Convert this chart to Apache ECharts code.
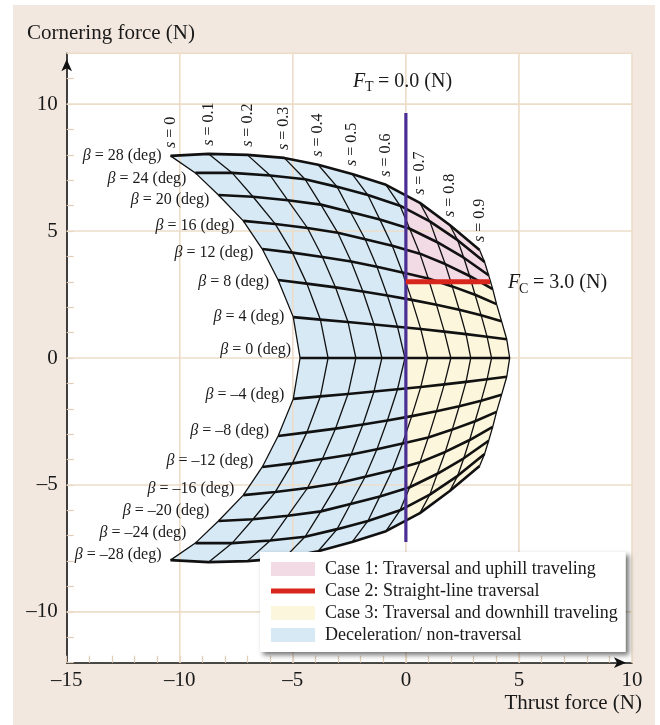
<!DOCTYPE html>
<html><head><meta charset="utf-8">
<script src="https://cdn.jsdelivr.net/npm/echarts@6/dist/echarts.min.js"></script>
<style>html,body{margin:0;padding:0;background:#fff}#c{width:660px;height:725px}</style>
</head><body><div id="c"></div>
<script>
// slip ratio values (one thin curve each) and slip angles (one thick curve each)
const sValues = [0, 0.1, 0.2, 0.3, 0.4, 0.5, 0.6, 0.7, 0.8, 0.9];
const betaValues = [28, 24, 20, 16, 12, 8, 4, 0, -4, -8, -12, -16, -20, -24, -28];

// thrust force (N) and cornering force (N) along each beta curve, s = 0 ... 0.9
const thrustB28 = [-10.41, -8.73, -7.01, -5.38, -3.88, -2.38, -0.88, 0.62, 1.94, 3.26];
const cornerB28 = [7.96, 8.04, 8.00, 7.88, 7.61, 7.25, 6.82, 6.11, 5.24, 4.25];
const thrustB24 = [-9.31, -7.68, -6.00, -4.46, -3.04, -1.68, -0.26, 1.06, 2.29, 3.48];
const cornerB24 = [7.29, 7.29, 7.19, 7.04, 6.74, 6.42, 6.00, 5.38, 4.64, 3.78];
const thrustB20 = [-8.29, -6.76, -5.22, -3.76, -2.45, -1.15, 0.17, 1.39, 2.56, 3.66];
const cornerB20 = [6.42, 6.35, 6.21, 6.04, 5.75, 5.45, 5.09, 4.56, 3.95, 3.26];
const thrustB16 = [-7.19, -5.78, -4.35, -3.01, -1.80, -0.60, 0.62, 1.74, 2.82, 3.84];
const cornerB16 = [5.40, 5.28, 5.12, 4.93, 4.68, 4.42, 4.11, 3.70, 3.23, 2.71];
const thrustB12 = [-6.35, -5.02, -3.69, -2.42, -1.28, -0.15, 0.99, 2.05, 3.06, 4.01];
const cornerB12 = [4.29, 4.15, 3.98, 3.80, 3.59, 3.37, 3.13, 2.82, 2.49, 2.12];
const thrustB8 = [-5.65, -4.38, -3.11, -1.90, -0.82, 0.26, 1.35, 2.36, 3.33, 4.23];
const cornerB8 = [3.07, 2.93, 2.78, 2.62, 2.46, 2.29, 2.10, 1.90, 1.68, 1.45];
const thrustB4 = [-4.98, -3.78, -2.56, -1.41, -0.37, 0.66, 1.70, 2.66, 3.59, 4.46];
const cornerB4 = [1.61, 1.51, 1.42, 1.32, 1.23, 1.14, 1.04, 0.94, 0.84, 0.74];
const thrustB0 = [-4.68, -3.44, -2.21, -1.06, -0.04, 0.97, 1.99, 2.87, 3.79, 4.59];
const cornerB0 = [0, 0, 0, 0, 0, 0, 0, 0, 0, 0];
const thrustBm4 = [-4.98, -3.78, -2.56, -1.41, -0.37, 0.66, 1.70, 2.66, 3.59, 4.46];
const cornerBm4 = [-1.61, -1.51, -1.42, -1.32, -1.23, -1.14, -1.04, -0.94, -0.84, -0.74];
const thrustBm8 = [-5.65, -4.38, -3.11, -1.90, -0.82, 0.26, 1.35, 2.36, 3.33, 4.23];
const cornerBm8 = [-3.07, -2.93, -2.78, -2.62, -2.46, -2.29, -2.10, -1.90, -1.68, -1.45];
const thrustBm12 = [-6.35, -5.02, -3.69, -2.42, -1.28, -0.15, 0.99, 2.05, 3.06, 4.01];
const cornerBm12 = [-4.29, -4.15, -3.98, -3.80, -3.59, -3.37, -3.13, -2.82, -2.49, -2.12];
const thrustBm16 = [-7.19, -5.78, -4.35, -3.01, -1.80, -0.60, 0.62, 1.74, 2.82, 3.84];
const cornerBm16 = [-5.40, -5.28, -5.12, -4.93, -4.68, -4.42, -4.11, -3.70, -3.23, -2.71];
const thrustBm20 = [-8.29, -6.76, -5.22, -3.76, -2.45, -1.15, 0.17, 1.39, 2.56, 3.66];
const cornerBm20 = [-6.42, -6.35, -6.21, -6.04, -5.75, -5.45, -5.09, -4.56, -3.95, -3.26];
const thrustBm24 = [-9.31, -7.68, -6.00, -4.46, -3.04, -1.68, -0.26, 1.06, 2.29, 3.48];
const cornerBm24 = [-7.29, -7.29, -7.19, -7.04, -6.74, -6.42, -6.00, -5.38, -4.64, -3.78];
const thrustBm28 = [-10.41, -8.73, -7.01, -5.38, -3.88, -2.38, -0.88, 0.62, 1.94, 3.26];
const cornerBm28 = [-7.96, -8.04, -8.00, -7.88, -7.61, -7.25, -6.82, -6.11, -5.24, -4.25];

const thrustRows = [thrustB28, thrustB24, thrustB20, thrustB16, thrustB12, thrustB8, thrustB4, thrustB0,
  thrustBm4, thrustBm8, thrustBm12, thrustBm16, thrustBm20, thrustBm24, thrustBm28];
const cornerRows = [cornerB28, cornerB24, cornerB20, cornerB16, cornerB12, cornerB8, cornerB4, cornerB0,
  cornerBm4, cornerBm8, cornerBm12, cornerBm16, cornerBm20, cornerBm24, cornerBm28];

// reference lines
const thrustZero = 0.0;            // F_T = 0.0 (N)
const thrustLineSpan = [-7.25, 9.65];
const corneringCase2 = 3.0;        // F_C = 3.0 (N)
const case2End = 3.72;

// axis grid values
const xGridValues = [-10, -5, 0, 5, 10];
const yGridValues = [-10, -5, 0, 5, 10, 12];

const legendNames = ['Case 1: Traversal and uphill traveling', 'Case 2: Straight-line traversal',
  'Case 3: Traversal and downhill traveling', 'Deceleration/ non-traversal'];

// label placement (style only)
const betaLabelDy = [0, 6, 5, 5, 4, 2, 0, -8, -4, -5, -6, -6, -10, -10, -5];

const SERIF = '"Liberation Serif", "Times New Roman", serif';
const INK = '#1a1a1a';
const dash = v => String(v).replace('-', '\u2013');
const nB = betaValues.length, nS = sValues.length;

function meshOutline() {
  const out = [];
  for (let b = nB - 1; b >= 0; b--) out.push([thrustRows[b][0], cornerRows[b][0]]);
  for (let s = 1; s < nS; s++) out.push([thrustRows[0][s], cornerRows[0][s]]);
  for (let b = 1; b < nB; b++) out.push([thrustRows[b][nS - 1], cornerRows[b][nS - 1]]);
  for (let s = nS - 2; s >= 1; s--) out.push([thrustRows[nB - 1][s], cornerRows[nB - 1][s]]);
  return out;
}
function clipPoly(poly, axis, val, keepGreater) {
  const out = [];
  const inside = p => keepGreater ? p[axis] >= val : p[axis] <= val;
  for (let i = 0; i < poly.length; i++) {
    const a = poly[i], b = poly[(i + 1) % poly.length];
    const ia = inside(a), ib = inside(b);
    if (ia) out.push(a);
    if (ia !== ib) {
      const t = (val - a[axis]) / (b[axis] - a[axis]);
      out.push([a[0] + t * (b[0] - a[0]), a[1] + t * (b[1] - a[1])]);
    }
  }
  return out;
}
function fillRenderer(region) {
  return function (params, api) {
    let poly = meshOutline();
    if (region === 'decel') poly = clipPoly(poly, 0, thrustZero, false);
    else {
      poly = clipPoly(poly, 0, thrustZero, true);
      poly = clipPoly(poly, 1, corneringCase2, region === 'uphill');
    }
    return { type: 'polygon', shape: { points: poly.map(p => api.coord(p)) }, style: { fill: api.visual('color') } };
  };
}
function renderGridLines(params, api) {
  const children = [];
  const col = '#ecdcc8';
  xGridValues.forEach(v => {
    const a = api.coord([v, -12]), b = api.coord([v, 12]);
    children.push({ type: 'line', shape: { x1: a[0], y1: a[1], x2: b[0], y2: b[1] }, style: { stroke: col, lineWidth: 1.6 } });
  });
  yGridValues.forEach(v => {
    const a = api.coord([-15, v]), b = api.coord([10, v]);
    children.push({ type: 'line', shape: { x1: a[0], y1: a[1], x2: b[0], y2: b[1] }, style: { stroke: col, lineWidth: 1.6 } });
  });
  return { type: 'group', children };
}
function renderMesh(params, api) {
  const children = [];
  for (let s = 0; s < nS; s++) {
    const pts = [];
    for (let b = 0; b < nB; b++) pts.push(api.coord([thrustRows[b][s], cornerRows[b][s]]));
    children.push({ type: 'polyline', shape: { points: pts }, style: { stroke: '#111', lineWidth: 1.3, fill: null } });
  }
  for (let b = 0; b < nB; b++) {
    const pts = thrustRows[b].map((x, i) => api.coord([x, cornerRows[b][i]]));
    children.push({ type: 'polyline', shape: { points: pts }, style: { stroke: '#111', lineWidth: 2.6, fill: null, lineJoin: 'round' } });
  }
  return { type: 'group', children };
}
function renderLabels(params, api) {
  const children = [];
  betaValues.forEach((b, i) => {
    const p = api.coord([thrustRows[i][0], cornerRows[i][0]]);
    children.push({ type: 'text', x: p[0] - 9, y: p[1] + betaLabelDy[i], style: {
      text: '{g|\u03b2} = ' + dash(b) + ' (deg)',
      rich: { g: { fontStyle: 'italic', fontFamily: SERIF, fontSize: 16, fill: INK } },
      fontFamily: SERIF, fontSize: 16, fill: INK, align: 'right', verticalAlign: 'middle' } });
  });
  sValues.forEach((s, j) => {
    const p = api.coord([thrustRows[0][j], cornerRows[0][j]]);
    children.push({ type: 'text', x: p[0], y: p[1] - 8, rotation: Math.PI / 2, style: {
      text: '{i|s} = ' + s,
      rich: { i: { fontStyle: 'italic', fontFamily: SERIF, fontSize: 16, fill: INK } },
      fontFamily: SERIF, fontSize: 16, fill: INK, align: 'left', verticalAlign: 'middle' } });
  });
  return { type: 'group', children };
}

const axisCommon = {
  type: 'value', interval: 1,
  axisLine: { onZero: false, lineStyle: { color: '#111', width: 1.6 }, symbol: ['none', 'arrow'], symbolSize: [8, 12], symbolOffset: [0, -6] },
  axisTick: { inside: true, length: 7, lineStyle: { color: '#e2cdb6', width: 1.2 } },
  axisLabel: { formatter: v => (v % 5 === 0 ? dash(v) : ''), fontFamily: SERIF, fontSize: 21, color: INK },
  splitLine: { show: false }
};

const chart = echarts.init(document.getElementById('c'));
chart.setOption({
  animation: false,
  backgroundColor: '#ffffff',
  graphic: [
    { type: 'rect', z: -100, silent: true, shape: { x: 13, y: 5, width: 642, height: 720 }, style: { fill: '#f2e8df' } },
    { type: 'text', x: 27, y: 33.5, style: { text: 'Cornering force (N)', fontFamily: SERIF, fontSize: 21, fill: INK, align: 'left', verticalAlign: 'middle' } },
    { type: 'text', x: 642, y: 703, style: { text: 'Thrust force (N)', fontFamily: SERIF, fontSize: 21, fill: INK, align: 'right', verticalAlign: 'middle' } },
    { type: 'text', x: 353, y: 82, z: 10, style: { text: 'F', fontFamily: SERIF, fontStyle: 'italic', fontSize: 20, fill: INK, align: 'left', verticalAlign: 'middle' } },
    { type: 'text', x: 365, y: 87, z: 10, style: { text: 'T', fontFamily: SERIF, fontSize: 14, fill: INK, align: 'left', verticalAlign: 'middle' } },
    { type: 'text', x: 378, y: 82, z: 10, style: { text: '= 0.0 (N)', fontFamily: SERIF, fontSize: 20, fill: INK, align: 'left', verticalAlign: 'middle' } },
    { type: 'text', x: 508, y: 283, z: 10, style: { text: 'F', fontFamily: SERIF, fontStyle: 'italic', fontSize: 20, fill: INK, align: 'left', verticalAlign: 'middle' } },
    { type: 'text', x: 519, y: 289, z: 10, style: { text: 'C', fontFamily: SERIF, fontSize: 14, fill: INK, align: 'left', verticalAlign: 'middle' } },
    { type: 'text', x: 533, y: 283, z: 10, style: { text: '= 3.0 (N)', fontFamily: SERIF, fontSize: 20, fill: INK, align: 'left', verticalAlign: 'middle' } }
  ],
  grid: { left: 66.7, right: 28, top: 53.3, bottom: 62.3, show: true, backgroundColor: '#ffffff', borderWidth: 0 },
  xAxis: Object.assign({}, axisCommon, { min: -15, max: 10, axisLabel: Object.assign({}, axisCommon.axisLabel, { margin: 7 }) }),
  yAxis: Object.assign({}, axisCommon, { min: -12, max: 12, axisLabel: Object.assign({}, axisCommon.axisLabel, { margin: 9 }) }),
  legend: {
    orient: 'vertical', left: 260, top: 552, padding: [8, 8, 8, 11], itemGap: 4, itemWidth: 44, itemHeight: 14,
    backgroundColor: '#ffffff', shadowBlur: 5, shadowColor: 'rgba(0,0,0,0.55)', shadowOffsetX: 3, shadowOffsetY: 3,
    selectedMode: false,
    textStyle: { fontFamily: SERIF, fontSize: 18, color: INK, padding: [0, 0, 0, 5] },
    data: [
      { name: legendNames[0], icon: 'rect' },
      { name: legendNames[1], icon: 'path://M0 0H44V5H0Z' },
      { name: legendNames[2], icon: 'rect' },
      { name: legendNames[3], icon: 'rect' }
    ]
  },
  series: [
    { type: 'custom', name: legendNames[3], z: 1, data: [[0, 0]], itemStyle: { color: '#d6e9f5' }, renderItem: fillRenderer('decel'), silent: true },
    { type: 'custom', name: legendNames[0], z: 1, data: [[0, 0]], itemStyle: { color: '#f3dbe5' }, renderItem: fillRenderer('uphill'), silent: true },
    { type: 'custom', name: legendNames[2], z: 1, data: [[0, 0]], itemStyle: { color: '#fbf6dc' }, renderItem: fillRenderer('downhill'), silent: true },
    { type: 'custom', name: 'grid', z: 2, data: [[0, 0]], renderItem: renderGridLines, silent: true },
    { type: 'custom', name: 'mesh', z: 3, data: [[0, 0]], renderItem: renderMesh, silent: true },
    { type: 'line', name: 'FT', z: 4, data: [[thrustZero, thrustLineSpan[0]], [thrustZero, thrustLineSpan[1]]], showSymbol: false, lineStyle: { color: '#4a2e93', width: 3.2 }, itemStyle: { color: '#4a2e93' }, silent: true },
    { type: 'line', name: legendNames[1], z: 4, data: [[thrustZero, corneringCase2], [case2End, corneringCase2]], showSymbol: false, lineStyle: { color: '#d8261c', width: 5 }, itemStyle: { color: '#d8261c' }, silent: true },
    { type: 'custom', name: 'labels', z: 5, data: [[0, 0]], renderItem: renderLabels, silent: true }
  ]
});
</script>
</body></html>
